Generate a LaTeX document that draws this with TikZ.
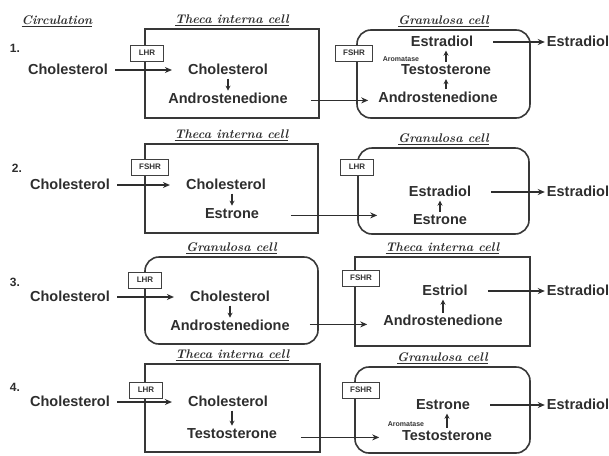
\documentclass[tikz,border=0pt]{standalone}
\usepackage{fontspec}
\setsansfont{Liberation Sans}
\usetikzlibrary{positioning,calc,arrows.meta}

\begin{document}
\begin{tikzpicture}[x=1pt,y=-1pt,
      ink/.style={draw=black!78,line width=1.6pt},
      thecacell/.style={ink,inner sep=0pt},
      granulosacell/.style={ink,rounded corners=14pt,inner sep=0pt},
      receptor/.style={draw=black!75,line width=0.9pt,fill=white,text=black!80,
        font=\sffamily\bfseries\fontsize{8}{9}\selectfont,inner xsep=8pt,inner ysep=2pt,minimum height=16pt},
      mol/.style={font=\sffamily\bfseries\fontsize{14.5}{16}\selectfont,text=black!82,
        inner sep=1pt,text height=11pt,text depth=2pt},
      enzyme/.style={font=\sffamily\bfseries\fontsize{7}{8}\selectfont,text=black!80,inner sep=1pt},
      celltitle/.style={font=\bfseries\itshape\fontsize{12.5}{14}\selectfont,text=black!82,inner sep=1pt},
      rowno/.style={font=\sffamily\bfseries\fontsize{12}{13}\selectfont,text=black!82},
      post/.style={-{Stealth[length=7pt,width=6pt]},line width=1.1pt,draw=black!82},
      step down/.style={-{Stealth[length=5pt,width=5pt]},line width=1.1pt,draw=black!82,
        shorten <=1pt,shorten >=1pt},
      entry/.style={post,shorten <=6pt,shorten >=15pt},
      exit/.style={post,shorten <=19pt,shorten >=1pt}
      ]
      \useasboundingbox[fill=white] (0,0) rectangle (609,455);

      \node[celltitle] (circ) at (57,21) {\underline{Circulation}};

      % 1.
      \node[rowno] (n1) at (15,48) {1.};
      \node[mol] (ch1) at (68,70) {Cholesterol};
      \node[thecacell,minimum width=174pt,minimum height=89pt] (th1) at (232,73.5) {};
      \node[celltitle,above=1pt of th1] (tt1) {\underline{Theca interna cell}};
      \node[receptor] (r1) at (147,53) {LHR};
      \node[mol] (chin1) at (228,70) {Cholesterol};
      \node[mol,below=14pt of chin1] (an1) {Androstenedione};

      \node[granulosacell,minimum width=173pt,minimum height=88pt] (gc1) at (443.5,74) {};
      \node[celltitle,above=1pt of gc1] (tg1) {\underline{Granulosa cell}};
      \node[receptor] (r1b) at (354,53) {FSHR};
      \node[mol] (es1) at (442,42) {Estradiol};
      \node[mol,below=13pt of es1,xshift=4pt] (te1) {Testosterone};
      \node[mol,below=12pt of te1,xshift=-8pt] (an1b) {Androstenedione};
      \node[enzyme] (ar1) at (401,59) {Aromatase};
      \node[mol] (out1) at (578,42) {Estradiol};

      \draw[entry] (ch1) -- (chin1);
      \draw[step down] (chin1) -- (an1);
      \draw[post] ($(th1.east |- an1)+(-9,1)$) -- ($(gc1.west |- an1)+(12,1)$);
      \draw[step down] (an1b.north -| te1) -- (te1);
      \draw[step down] (te1) -- (te1 |- es1.south);
      \draw[exit] (es1) -- (out1);

      % 2.
      \node[rowno] (n2) at (17,168) {2.};
      \node[mol] (ch2) at (70,185) {Cholesterol};
      \node[thecacell,minimum width=173pt,minimum height=89pt] (th2) at (231.5,188.5) {};
      \node[celltitle,above=1pt of th2] (tt2) {\underline{Theca interna cell}};
      \node[receptor] (r2) at (150,167) {FSHR};
      \node[mol] (chin2) at (226,185) {Cholesterol};
      \node[mol,below=14pt of chin2,xshift=6pt] (en2) {Estrone};

      \node[granulosacell,minimum width=171pt,minimum height=86pt] (gc2) at (443.5,191) {};
      \node[celltitle,above=1pt of gc2] (tg2) {\underline{Granulosa cell}};
      \node[receptor] (r2b) at (357,167) {LHR};
      \node[mol] (es2) at (440,192) {Estradiol};
      \node[mol,below=13pt of es2] (en2b) {Estrone};
      \node[mol] (out2) at (578,192) {Estradiol};

      \draw[entry] (ch2) -- (chin2);
      \draw[step down] (chin2.south -| en2) -- (en2);
      \draw[post] ($(th2.east |- en2)+(-28,1)$) -- ($(gc2.west |- en2)+(20,1)$);
      \draw[step down] (en2b) -- (es2);
      \draw[exit] (es2) -- (out2);

      % 3.
      \node[rowno] (n3) at (15,282) {3.};
      \node[mol] (ch3) at (70,297) {Cholesterol};
      \node[granulosacell,minimum width=173pt,minimum height=87pt] (gc3) at (231.5,300.5) {};
      \node[celltitle,above=1pt of gc3] (tg3) {\underline{Granulosa cell}};
      \node[receptor] (r3) at (145,280) {LHR};
      \node[mol] (chin3) at (230,297) {Cholesterol};
      \node[mol,below=14pt of chin3] (an3) {Androstenedione};

      \node[thecacell,minimum width=175pt,minimum height=89pt] (th3) at (442.5,301.5) {};
      \node[celltitle,above=1pt of th3] (tt3) {\underline{Theca interna cell}};
      \node[receptor] (r3b) at (361,278) {FSHR};
      \node[mol] (et3) at (445,291) {Estriol};
      \node[mol,below=15pt of et3,xshift=-2pt] (an3b) {Androstenedione};
      \node[mol] (out3) at (578,291) {Estradiol};

      \draw[entry] (ch3) -- (chin3);
      \draw[step down] (chin3) -- (an3);
      \draw[post] ($(gc3.east |- an3)+(-9,-2)$) -- ($(th3.west |- an3)+(13,-2)$);
      \draw[step down] (an3b) -- (an3b |- et3.south);
      \draw[exit] (et3) -- (out3);

      % 4.
      \node[rowno] (n4) at (15,387) {4.};
      \node[mol] (ch4) at (70,402) {Cholesterol};
      \node[thecacell,minimum width=175pt,minimum height=88pt] (th4) at (232.5,408) {};
      \node[celltitle,above=1pt of th4] (tt4) {\underline{Theca interna cell}};
      \node[receptor] (r4) at (146,390) {LHR};
      \node[mol] (chin4) at (228,402) {Cholesterol};
      \node[mol,below=17pt of chin4,xshift=4pt] (te4) {Testosterone};

      \node[granulosacell,minimum width=175pt,minimum height=86pt] (gc4) at (442.5,410) {};
      \node[celltitle,above=1pt of gc4] (tg4) {\underline{Granulosa cell}};
      \node[receptor] (r4b) at (361,390) {FSHR};
      \node[mol] (en4) at (443,405) {Estrone};
      \node[mol,below=16pt of en4,xshift=4pt] (te4b) {Testosterone};
      \node[enzyme] (ar4) at (406,424) {Aromatase};
      \node[mol] (out4) at (578,405) {Estradiol};

      \draw[entry] (ch4) -- (chin4);
      \draw[step down] (chin4.south -| te4) -- (te4);
      \draw[post] ($(th4.east |- te4)+(-20,3)$) -- ($(gc4.west |- te4)+(25,3)$);
      \draw[step down] (te4b) -- (te4b |- en4.south);
      \draw[exit] (en4) -- (out4);
    \end{tikzpicture}
\end{document}
